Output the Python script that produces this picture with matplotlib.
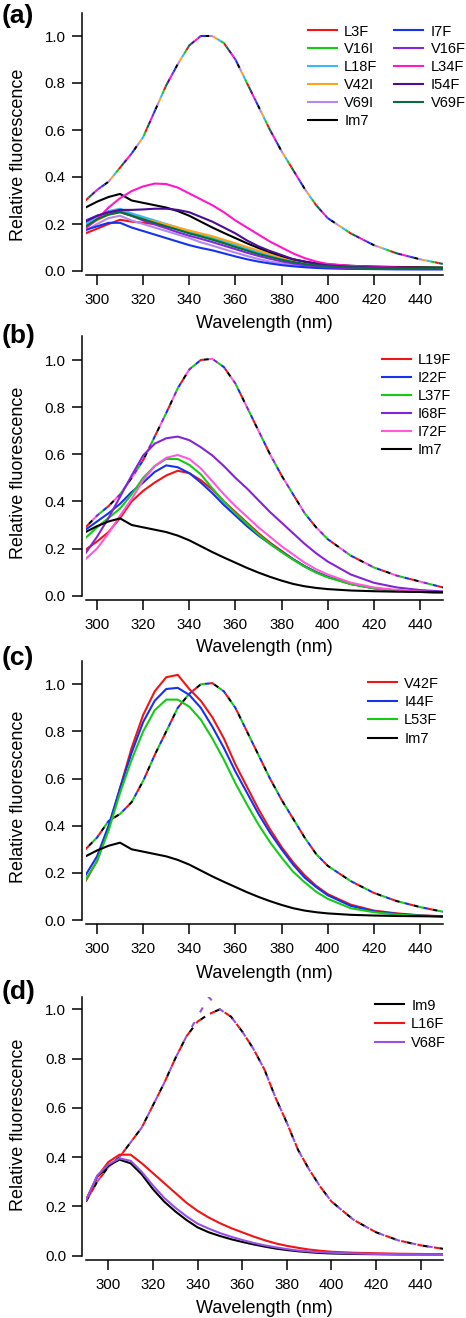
import matplotlib
matplotlib.use("Agg")
import matplotlib.pyplot as plt

plt.rcParams['font.family'] = ['Liberation Sans', 'DejaVu Sans']
plt.rcParams['lines.scale_dashes'] = False

# ---------------- data ----------------
WL = [295, 300, 305, 310, 315, 320, 325, 330, 335, 340, 345, 350, 355, 360, 365,
      370, 375, 380, 385, 390, 395, 400, 410, 420, 430, 440, 450]
WL_D = [290] + WL

# Panel (a)
DENAT_A = [0.30, 0.345, 0.38, 0.44, 0.50, 0.57, 0.68, 0.79, 0.88, 0.96, 1.00, 1.00, 0.97, 0.90, 0.80,
           0.70, 0.60, 0.51, 0.43, 0.35, 0.28, 0.225, 0.16, 0.11, 0.075, 0.05, 0.03]
L3F = [0.16, 0.18, 0.20, 0.218, 0.21, 0.205, 0.20, 0.19, 0.18, 0.165, 0.155, 0.143, 0.128, 0.113, 0.098,
       0.083, 0.068, 0.055, 0.045, 0.036, 0.029, 0.024, 0.018, 0.015, 0.013, 0.012, 0.011]
V16I = [0.185, 0.22, 0.245, 0.258, 0.24, 0.225, 0.21, 0.196, 0.18, 0.165, 0.152, 0.138, 0.122, 0.105, 0.09,
        0.075, 0.062, 0.05, 0.04, 0.032, 0.026, 0.021, 0.016, 0.013, 0.011, 0.01, 0.01]
L18F = [0.20, 0.23, 0.255, 0.265, 0.245, 0.23, 0.215, 0.20, 0.185, 0.17, 0.157, 0.145, 0.128, 0.112, 0.096,
        0.08, 0.066, 0.053, 0.042, 0.034, 0.027, 0.022, 0.016, 0.013, 0.011, 0.01, 0.01]
V42I = [0.19, 0.215, 0.24, 0.25, 0.235, 0.22, 0.21, 0.198, 0.185, 0.172, 0.16, 0.148, 0.133, 0.118, 0.102,
        0.087, 0.072, 0.058, 0.047, 0.038, 0.03, 0.025, 0.019, 0.015, 0.013, 0.012, 0.011]
V69I = [0.17, 0.20, 0.225, 0.235, 0.215, 0.20, 0.185, 0.17, 0.155, 0.14, 0.122, 0.108, 0.093, 0.078, 0.064,
        0.051, 0.04, 0.032, 0.025, 0.02, 0.016, 0.013, 0.01, 0.009, 0.008, 0.008, 0.008]
IM7 = [0.27, 0.295, 0.315, 0.328, 0.30, 0.29, 0.28, 0.27, 0.255, 0.235, 0.21, 0.185, 0.162, 0.14, 0.118,
       0.098, 0.08, 0.064, 0.05, 0.04, 0.033, 0.028, 0.022, 0.019, 0.017, 0.016, 0.015]
I7F = [0.175, 0.19, 0.205, 0.205, 0.185, 0.17, 0.155, 0.14, 0.125, 0.11, 0.098, 0.088, 0.075, 0.062, 0.05,
       0.04, 0.032, 0.025, 0.02, 0.016, 0.013, 0.011, 0.009, 0.008, 0.007, 0.007, 0.007]
V16F = [0.215, 0.235, 0.25, 0.252, 0.235, 0.215, 0.198, 0.182, 0.165, 0.15, 0.137, 0.123, 0.108, 0.093, 0.078,
        0.064, 0.052, 0.041, 0.032, 0.025, 0.02, 0.016, 0.012, 0.01, 0.009, 0.008, 0.008]
L34F = [0.18, 0.22, 0.27, 0.31, 0.34, 0.36, 0.372, 0.37, 0.355, 0.33, 0.305, 0.28, 0.25, 0.215, 0.185,
        0.155, 0.125, 0.10, 0.075, 0.055, 0.04, 0.03, 0.022, 0.018, 0.015, 0.013, 0.012]
I54F = [0.21, 0.235, 0.25, 0.26, 0.26, 0.262, 0.265, 0.265, 0.26, 0.25, 0.23, 0.21, 0.185, 0.16, 0.13,
        0.105, 0.085, 0.068, 0.05, 0.04, 0.03, 0.024, 0.018, 0.015, 0.013, 0.012, 0.012]
V69F = [0.19, 0.22, 0.24, 0.25, 0.235, 0.22, 0.205, 0.19, 0.175, 0.16, 0.147, 0.133, 0.118, 0.102, 0.087,
        0.072, 0.06, 0.048, 0.038, 0.03, 0.024, 0.02, 0.015, 0.012, 0.011, 0.01, 0.01]

# Panel (b)
DENAT_B = [0.29, 0.34, 0.38, 0.43, 0.50, 0.575, 0.675, 0.775, 0.88, 0.96, 1.00, 1.005, 0.97, 0.90, 0.80,
           0.70, 0.60, 0.51, 0.43, 0.35, 0.29, 0.24, 0.17, 0.12, 0.085, 0.06, 0.035]
L19F = [0.195, 0.23, 0.27, 0.33, 0.40, 0.445, 0.48, 0.51, 0.53, 0.52, 0.49, 0.45, 0.40, 0.355, 0.31,
        0.265, 0.225, 0.19, 0.155, 0.125, 0.10, 0.08, 0.05, 0.032, 0.022, 0.016, 0.013]
I22F = [0.28, 0.315, 0.35, 0.39, 0.44, 0.48, 0.525, 0.553, 0.545, 0.52, 0.48, 0.435, 0.385, 0.34, 0.295,
        0.255, 0.22, 0.187, 0.155, 0.125, 0.10, 0.08, 0.05, 0.032, 0.022, 0.016, 0.013]
L37F = [0.245, 0.29, 0.33, 0.37, 0.43, 0.50, 0.55, 0.58, 0.58, 0.555, 0.515, 0.455, 0.40, 0.35, 0.305,
        0.26, 0.22, 0.185, 0.153, 0.123, 0.098, 0.078, 0.049, 0.031, 0.021, 0.016, 0.013]
I68F = [0.18, 0.25, 0.33, 0.42, 0.51, 0.595, 0.645, 0.668, 0.675, 0.66, 0.63, 0.595, 0.55, 0.50, 0.455,
        0.405, 0.355, 0.31, 0.265, 0.22, 0.18, 0.145, 0.09, 0.055, 0.035, 0.024, 0.018]
I72F = [0.155, 0.20, 0.265, 0.34, 0.41, 0.49, 0.55, 0.585, 0.597, 0.58, 0.54, 0.485, 0.43, 0.38, 0.335,
        0.29, 0.25, 0.21, 0.175, 0.14, 0.112, 0.09, 0.055, 0.035, 0.024, 0.018, 0.014]

# Panel (c)
DENAT_C = [0.30, 0.35, 0.42, 0.45, 0.50, 0.59, 0.70, 0.80, 0.90, 0.96, 1.00, 1.005, 0.97, 0.90, 0.80,
           0.70, 0.60, 0.51, 0.43, 0.35, 0.28, 0.23, 0.165, 0.115, 0.08, 0.055, 0.035]
V42F = [0.165, 0.25, 0.39, 0.56, 0.73, 0.87, 0.97, 1.03, 1.04, 0.98, 0.93, 0.86, 0.77, 0.66, 0.565,
        0.47, 0.385, 0.31, 0.245, 0.19, 0.145, 0.11, 0.065, 0.04, 0.028, 0.02, 0.016]
I44F = [0.19, 0.27, 0.40, 0.56, 0.71, 0.84, 0.93, 0.98, 0.985, 0.955, 0.90, 0.82, 0.73, 0.63, 0.54,
        0.45, 0.37, 0.30, 0.235, 0.18, 0.14, 0.105, 0.06, 0.037, 0.026, 0.019, 0.015]
L53F = [0.17, 0.25, 0.38, 0.54, 0.68, 0.80, 0.89, 0.935, 0.935, 0.905, 0.85, 0.77, 0.68, 0.58, 0.49,
        0.405, 0.33, 0.265, 0.205, 0.16, 0.12, 0.09, 0.05, 0.033, 0.023, 0.018, 0.015]

# Panel (d)
DENAT_D = [0.22, 0.30, 0.36, 0.40, 0.46, 0.52, 0.61, 0.70, 0.80, 0.89, 0.95, 0.98, 1.00, 0.97, 0.91,
           0.84, 0.755, 0.64, 0.54, 0.43, 0.35, 0.28, 0.22, 0.145, 0.095, 0.062, 0.042, 0.028]
DENAT_D_V68F = [0.22, 0.30, 0.36, 0.40, 0.46, 0.52, 0.61, 0.70, 0.80, 0.89, 0.97, 1.05, 1.00, 0.97, 0.91,
                0.84, 0.755, 0.64, 0.54, 0.43, 0.35, 0.28, 0.22, 0.145, 0.095, 0.062, 0.042, 0.028]
IM9 = [0.225, 0.32, 0.365, 0.39, 0.375, 0.33, 0.27, 0.22, 0.18, 0.145, 0.115, 0.095, 0.08, 0.067, 0.056,
       0.046, 0.037, 0.029, 0.023, 0.018, 0.014, 0.011, 0.009, 0.007, 0.006, 0.005, 0.005, 0.005]
L16F = [0.225, 0.32, 0.38, 0.41, 0.41, 0.375, 0.335, 0.295, 0.255, 0.215, 0.182, 0.155, 0.132, 0.112, 0.095,
        0.078, 0.063, 0.05, 0.04, 0.032, 0.025, 0.02, 0.016, 0.012, 0.01, 0.008, 0.007, 0.006]
V68F = [0.225, 0.325, 0.37, 0.395, 0.385, 0.34, 0.285, 0.235, 0.195, 0.16, 0.13, 0.11, 0.092, 0.077, 0.064,
        0.052, 0.042, 0.034, 0.027, 0.021, 0.017, 0.014, 0.012, 0.009, 0.007, 0.006, 0.005, 0.005]

LABELS_A = ["L3F", "V16I", "L18F", "V42I", "V69I", "Im7", "I7F", "V16F", "L34F", "I54F", "V69F"]
COLORS_A = ["#f21414", "#14cc14", "#38b8f8", "#ffa41a", "#b487f2", "#000000",
            "#1432f0", "#8424e6", "#ff18c8", "#4c0c9c", "#0b6b3c"]
SERIES_A = [L3F, V16I, L18F, V42I, V69I, IM7, I7F, V16F, L34F, I54F, V69F]

LABELS_B = ["L19F", "I22F", "L37F", "I68F", "I72F", "Im7"]
COLORS_B = ["#f21414", "#1432f0", "#14cc14", "#8424d8", "#ff58dc", "#000000"]
SERIES_B = [L19F, I22F, L37F, I68F, I72F, IM7]

LABELS_C = ["V42F", "I44F", "L53F", "Im7"]
COLORS_C = ["#f21414", "#1432f0", "#14cc14", "#000000"]
SERIES_C = [V42F, I44F, L53F, IM7]

LABELS_D = ["Im9", "L16F", "V68F"]
COLORS_D = ["#000000", "#f21414", "#9650e8"]
SERIES_D = [IM9, L16F, V68F]
DENAT_SERIES_D = [DENAT_D, DENAT_D, DENAT_D_V68F]

# ---------------- layout ----------------
W, H = 466, 1318
fig = plt.figure(figsize=(W / 100, H / 100), dpi=100)


def make_ax(x0, x1, ytop_px, y0_px):
    return fig.add_axes([x0 / W, 1 - y0_px / H, (x1 - x0) / W, (y0_px - ytop_px) / H])


def style(ax, xlim, ylim, spine_px_bottom, ylabel_center_px, letter, letter_base_px):
    ax.set_xlim(*xlim)
    ax.set_ylim(*ylim)
    for s in ("top", "right"):
        ax.spines[s].set_visible(False)
    for s in ("left", "bottom"):
        ax.spines[s].set_position(("outward", 2.8))
        ax.spines[s].set_linewidth(1.1)
    ax.set_xticks(range(300, 441, 20))
    yt = [0.0, 0.2, 0.4, 0.6, 0.8, 1.0]
    ax.set_yticks(yt)
    ax.set_yticklabels(["%.1f" % v for v in yt])
    ax.tick_params(axis="both", direction="out", length=7, width=1.1, labelsize=10.8)
    ax.tick_params(axis="y", pad=4.5)
    ax.tick_params(axis="x", pad=6)
    ax.set_xlabel("Wavelength (nm)", fontsize=13)
    ax.set_ylabel("Relative fluorescence", fontsize=13)
    bb = ax.get_position()
    ax_h_px = bb.height * H
    ax_w_px = bb.width * W
    ax_left_px = bb.x0 * W
    ax_bot_px = (1 - bb.y0) * H
    ax.yaxis.label.set_verticalalignment("center")
    ax.yaxis.set_label_coords((18.5 - ax_left_px) / ax_w_px,
                              (ax_bot_px - ylabel_center_px) / ax_h_px)
    ax.xaxis.label.set_verticalalignment("center")
    ax.xaxis.set_label_coords(0.5, (ax_bot_px - (spine_px_bottom + 49)) / ax_h_px)
    fig.text(2 / W, 1 - letter_base_px / H, letter, fontsize=19, fontweight="bold",
             va="baseline", ha="left")


def dashed(ax, x, y, color, i, n, on=3.5, lw=1.5):
    period = on * n
    ax.plot(x, y, color=color, lw=lw, linestyle=(i * on, (on, period - on)), zorder=2)


def legend(ax, x_px, top_px, ax_left, ax_w, ax_top, ax_h, **kw):
    args = dict(frameon=False, fontsize=10.5, handlelength=2.0, handletextpad=0.48,
                labelspacing=0.27, borderpad=0, borderaxespad=0, loc="upper left")
    args.update(kw)
    ax.legend(bbox_to_anchor=((x_px - ax_left) / ax_w, 1 - (top_px - ax_top) / ax_h), **args)


# (a)
a_top, a_zero = 271 - 1.1 * 235, 271
axa = make_ax(85.5, 443, a_top, a_zero)
for i, c in enumerate(COLORS_A):
    dashed(axa, WL, DENAT_A, c, i, len(COLORS_A), on=3.0)
for c, s, lab in zip(COLORS_A, SERIES_A, LABELS_A):
    axa.plot(WL, s, color=c, lw=1.5, label=lab, zorder=3)
style(axa, (295, 450), (0, 1.1), 275, 155, "(a)", 22.5)
legend(axa, 308, 24.5, 85.5, 357.5, a_top, a_zero - a_top, ncol=2, columnspacing=1.15)

# (b)
b_top, b_zero = 595.7 - 1.1 * 235.7, 595.7
axb = make_ax(85.5, 443, b_top, b_zero)
for i, c in enumerate(COLORS_B):
    dashed(axb, WL, DENAT_B, c, i, len(COLORS_B))
for c, s, lab in zip(COLORS_B, SERIES_B, LABELS_B):
    axb.plot(WL, s, color=c, lw=1.5, label=lab, zorder=3)
style(axb, (295, 450), (0, 1.1), 599, 473, "(b)", 342.5)
legend(axb, 381.7, 353.0, 85.5, 357.5, b_top, b_zero - b_top)

# (c)
c_top, c_zero = 920 - 1.1 * 235.7, 920
axc = make_ax(85.5, 443, c_top, c_zero)
for i, c in enumerate(COLORS_C):
    dashed(axc, WL, DENAT_C, c, i, len(COLORS_C))
for c, s, lab in zip(COLORS_C, SERIES_C, LABELS_C):
    axc.plot(WL, s, color=c, lw=1.5, label=lab, zorder=3)
style(axc, (295, 450), (0, 1.1), 924, 797, "(c)", 664.5)
legend(axc, 368, 676.5, 85.5, 357.5, c_top, c_zero - c_top, labelspacing=0.3)

# (d)
d_top, d_zero = 1255.7 - 1.05 * 246.4, 1255.7
axd = make_ax(86, 443, d_top, d_zero)
for i, (c, s) in enumerate(zip(COLORS_D, DENAT_SERIES_D)):
    dashed(axd, WL_D, s, c, i, len(COLORS_D), on=4.0)
for c, s, lab in zip(COLORS_D, SERIES_D, LABELS_D):
    axd.plot(WL_D, s, color=c, lw=1.5, label=lab, zorder=3)
style(axd, (290, 450), (0, 1.05), 1259.5, 1125, "(d)", 999.5)
legend(axd, 375, 998.5, 86, 357, d_top, d_zero - d_top, labelspacing=0.33)

fig.savefig("out.png", dpi=100)
